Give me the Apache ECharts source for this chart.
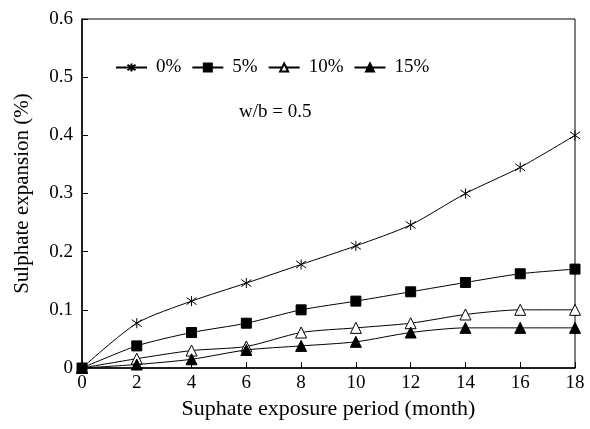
<!DOCTYPE html>
<html><head><meta charset="utf-8">
<script src="https://cdn.jsdelivr.net/npm/echarts@6/dist/echarts.min.js"></script>
<style>html,body{margin:0;padding:0;background:#fff}#c{width:590px;height:429px}</style>
</head><body><div id="c"></div>
<script>
var months = [0, 2, 4, 6, 8, 10, 12, 14, 16, 18];
var s0 = [0, 0.077, 0.115, 0.146, 0.178, 0.21, 0.246, 0.30, 0.345, 0.40];
var s5 = [0, 0.038, 0.061, 0.077, 0.100, 0.115, 0.131, 0.147, 0.162, 0.170];
var s10 = [0, 0.016, 0.030, 0.037, 0.061, 0.069, 0.077, 0.092, 0.100, 0.100];
var s15 = [0, 0.006, 0.015, 0.031, 0.038, 0.045, 0.061, 0.069, 0.069, 0.069];
var names = ['0%', '5%', '10%', '15%'];

var font = 'Liberation Serif';
var star = 'path://M0,-1L0,1M-0.9,-0.7L0.9,0.7M-0.9,0.7L0.9,-0.7';
function pairs(v){ return months.map(function(m,i){ return [m, v[i]]; }); }
function ser(name, data, symbol, size, fill, z){
  return {
    name: name, type: 'line', data: pairs(data), smooth: 0.25, z: z,
    symbol: symbol, symbolSize: size,
    lineStyle: {color: '#000', width: 1},
    itemStyle: {color: fill, borderColor: '#000', borderWidth: 1},
    emphasis: {disabled: true}
  };
}
var chart = echarts.init(document.getElementById('c'));
chart.setOption({
  animation: false,
  backgroundColor: '#fff',
  grid: {left: 82, top: 19, right: 15, bottom: 61, show: true, borderColor: '#000', borderWidth: 1, backgroundColor: 'transparent'},
  legend: {
    left: 110, top: 53, itemWidth: 31, itemHeight: 10, itemGap: 10,
    textStyle: {fontFamily: font, fontSize: 19, color: '#000', padding: [0, 0, 0, 4]},
    data: names
  },
  graphic: [{type: 'text', left: 239, top: 103, style: {text: 'w/b = 0.5', font: '19px "Liberation Serif"', fill: '#000'}}],
  xAxis: {
    type: 'value', min: 0, max: 18, interval: 2,
    name: 'Suphate exposure period (month)', nameLocation: 'middle', nameGap: 29,
    nameTextStyle: {fontFamily: font, fontSize: 22, color: '#000'},
    axisLine: {lineStyle: {color: '#000', width: 1.5}},
    axisTick: {inside: true, length: 6, lineStyle: {color: '#000'}},
    axisLabel: {fontFamily: font, fontSize: 19, color: '#000', margin: 6},
    splitLine: {show: false}
  },
  yAxis: {
    type: 'value', min: 0, max: 0.6, interval: 0.1,
    name: 'Sulphate expansion (%)', nameLocation: 'middle', nameGap: 49,
    nameTextStyle: {fontFamily: font, fontSize: 21, color: '#000'},
    axisLine: {show: true, lineStyle: {color: '#000', width: 1.5}},
    axisTick: {show: true, inside: true, length: 6, lineStyle: {color: '#000'}},
    axisLabel: {fontFamily: font, fontSize: 19, color: '#000', margin: 9,
      formatter: function(v){ return v === 0 ? '0' : v.toFixed(1); }},
    splitLine: {show: false}
  },
  series: [
    ser('0%', s0, star, 10, '#000', 2),
    ser('5%', s5, 'rect', 10, '#000', 5),
    ser('10%', s10, 'triangle', 11, '#fff', 3),
    ser('15%', s15, 'triangle', 11, '#000', 4)
  ]
});
</script></body></html>
